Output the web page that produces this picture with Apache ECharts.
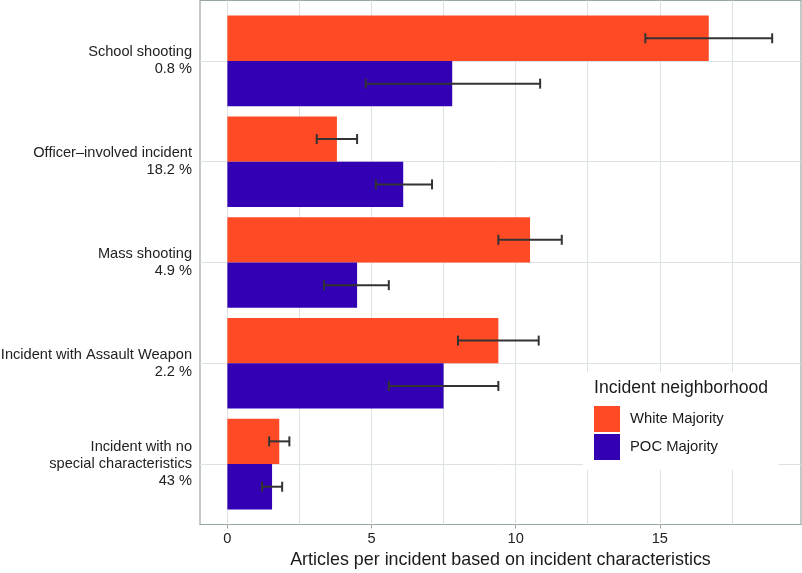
<!DOCTYPE html>
<html>
<head>
<meta charset="utf-8">
<script src="https://cdn.jsdelivr.net/npm/echarts@6/dist/echarts.min.js"></script>
<style>
  html, body { margin: 0; padding: 0; background: #fff; }
  #main { width: 802px; height: 573px; }
</style>
</head>
<body>
<div id="main"></div>
<script>
// categories (top to bottom) and share of incidents
var categories = ['School shooting', 'Officer\u2013involved incident', 'Mass shooting',
                  'Incident with Assault Weapon', 'Incident with no\nspecial characteristics'];
var shares = ['0.8 %', '18.2 %', '4.9 %', '2.2 %', '43 %'];

// articles per incident, with error bar limits
var whiteVals = [16.7, 3.8, 10.5, 9.4, 1.8];
var whiteLow  = [14.5, 3.1, 9.4, 8.0, 1.45];
var whiteHigh = [18.9, 4.5, 11.6, 10.8, 2.15];

var pocVals = [7.8, 6.1, 4.5, 7.5, 1.55];
var pocLow  = [4.8, 5.15, 3.35, 5.6, 1.2];
var pocHigh = [10.85, 7.1, 5.6, 9.4, 1.9];

var majorTicks = [0, 5, 10, 15];
var gridTicks = [0, 2.5, 5, 7.5, 10, 12.5, 15, 17.5];

var FONT = 'Liberation Sans, Helvetica, Arial, sans-serif';
var GRID_COLOR = '#DCE2E2';
var BORDER_COLOR = '#9AA6A6';

// panel box, and the inner data box (ggplot pads a discrete axis by 0.6 instead of 0.5)
var PANEL_TOP = 0.5, PANEL_BOTTOM = 48.5;
var BAND = (573 - PANEL_TOP - PANEL_BOTTOM) / (categories.length + 0.2);
var PAD = BAND * 0.1;

function errData(lo, hi) {
    return lo.map(function (v, i) { return [i, v, hi[i]]; });
}

// error bars, shifted up (-1) or down (+1) to sit in the middle of each dodged bar
function errRender(side) {
    return function (params, api) {
        var cat = api.value(0);
        var p0 = api.coord([api.value(1), cat]);
        var p1 = api.coord([api.value(2), cat]);
        var band = api.size([0, 1])[1];
        var y = p0[1] + side * band * 0.225;
        var st = { stroke: '#333333', lineWidth: 2 };
        return {
            type: 'group',
            children: [
                { type: 'line', shape: { x1: p0[0], y1: y, x2: p1[0], y2: y }, style: st },
                { type: 'line', shape: { x1: p0[0], y1: y - 5, x2: p0[0], y2: y + 5 }, style: st },
                { type: 'line', shape: { x1: p1[0], y1: y - 5, x2: p1[0], y2: y + 5 }, style: st }
            ]
        };
    };
}

function makeChart() {
    var myChart = echarts.init(document.getElementById('main'));

    var markBase = {
        silent: true,
        z: 1,
        symbol: ['none', 'none'],
        label: { show: false },
        lineStyle: { color: GRID_COLOR, width: 1, type: 'solid' }
    };

    var option = {
        animation: false,
        textStyle: { fontFamily: FONT },
        title: {
            text: 'Incident neighborhood',
            left: 594,
            top: 379,
            padding: 0,
            textStyle: { fontFamily: FONT, fontSize: 17.6, fontWeight: 'normal', color: '#1a1a1a' }
        },
        legend: {
            data: ['White Majority', 'POC Majority'],
            orient: 'vertical',
            left: 583,
            top: 372,
            padding: [34, 55, 10, 11],
            backgroundColor: '#ffffff',
            icon: 'rect',
            itemWidth: 26,
            itemHeight: 26,
            itemGap: 2,
            textStyle: { fontFamily: FONT, fontSize: 14.8, color: '#1a1a1a', padding: [0, 0, 0, 5] }
        },
        grid: [
            {   // panel with border
                left: 200, right: 1, top: PANEL_TOP, bottom: PANEL_BOTTOM,
                containLabel: false, outerBoundsMode: 'none',
                show: true, borderColor: BORDER_COLOR, borderWidth: 1.2
            },
            {   // data area
                left: 200, right: 1, top: PANEL_TOP + PAD, bottom: PANEL_BOTTOM + PAD,
                containLabel: false, outerBoundsMode: 'none'
            }
        ],
        xAxis: [
            {
                gridIndex: 0,
                type: 'value',
                min: -0.95,
                max: 19.9,
                splitLine: { show: false },
                axisLine: { show: false },
                axisTick: {
                    show: true, length: 4, customValues: majorTicks,
                    lineStyle: { color: BORDER_COLOR }
                },
                axisLabel: {
                    customValues: majorTicks, margin: 7,
                    fontSize: 14.6, color: '#222', fontFamily: FONT
                },
                name: 'Articles per incident based on incident characteristics',
                nameLocation: 'middle',
                nameGap: 24,
                nameTextStyle: { fontSize: 17.9, color: '#1a1a1a', fontFamily: FONT }
            },
            {
                gridIndex: 1,
                type: 'value',
                min: -0.95,
                max: 19.9,
                show: false,
                splitLine: { show: false }
            }
        ],
        yAxis: [
            {
                gridIndex: 0,
                type: 'value',
                min: 0,
                max: 1,
                show: false,
                splitLine: { show: false }
            },
            {
                gridIndex: 1,
                type: 'category',
                inverse: true,
                data: categories,
                axisLine: { show: false },
                axisTick: { show: true, length: 5, alignWithLabel: true, lineStyle: { color: BORDER_COLOR } },
                splitLine: { show: false },
                axisLabel: {
                    margin: 8,
                    fontSize: 14.6,
                    lineHeight: 17,
                    color: '#222',
                    fontFamily: FONT,
                    align: 'right',
                    formatter: function (v, i) { return v + '\n' + shares[i]; }
                }
            }
        ],
        series: [
            {
                name: 'vgrid',
                type: 'line',
                xAxisIndex: 0,
                yAxisIndex: 0,
                data: [],
                z: 1,
                silent: true,
                markLine: Object.assign({}, markBase, {
                    data: gridTicks.map(function (v) { return { xAxis: v }; })
                })
            },
            {
                name: 'hgrid',
                type: 'line',
                xAxisIndex: 1,
                yAxisIndex: 1,
                data: [],
                z: 1,
                silent: true,
                markLine: Object.assign({}, markBase, {
                    data: categories.map(function (c, i) { return { yAxis: i }; })
                })
            },
            {
                name: 'White Majority',
                type: 'bar',
                xAxisIndex: 1,
                yAxisIndex: 1,
                data: whiteVals,
                barWidth: '45%',
                barGap: '0%',
                z: 3,
                itemStyle: { color: '#FF4A26' }
            },
            {
                name: 'POC Majority',
                type: 'bar',
                xAxisIndex: 1,
                yAxisIndex: 1,
                data: pocVals,
                barWidth: '45%',
                barGap: '0%',
                z: 3,
                itemStyle: { color: '#3300B4' }
            },
            {
                type: 'custom',
                xAxisIndex: 1,
                yAxisIndex: 1,
                renderItem: errRender(-1),
                data: errData(whiteLow, whiteHigh),
                encode: { x: [1, 2], y: 0 },
                z: 5
            },
            {
                type: 'custom',
                xAxisIndex: 1,
                yAxisIndex: 1,
                renderItem: errRender(1),
                data: errData(pocLow, pocHigh),
                encode: { x: [1, 2], y: 0 },
                z: 5
            }
        ]
    };

    myChart.setOption(option, true);
    return myChart;
}

window.onload = function () {
    var chart = makeChart();
    window.onresize = function () { chart.resize(); };
};
</script>
</body>
</html>
